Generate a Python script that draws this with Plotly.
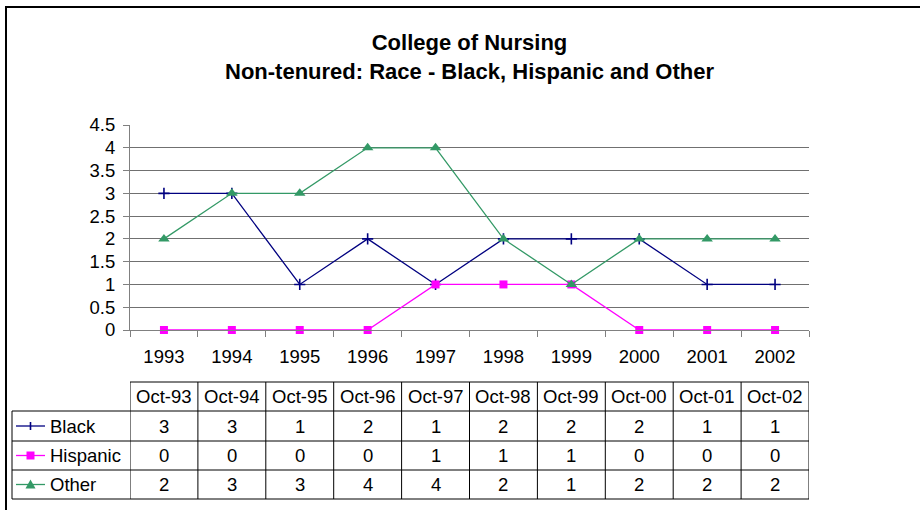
import plotly.graph_objects as go

# ---------------- data ----------------
years = ["1993", "1994", "1995", "1996", "1997", "1998", "1999", "2000", "2001", "2002"]
months = ["Oct-93", "Oct-94", "Oct-95", "Oct-96", "Oct-97", "Oct-98", "Oct-99", "Oct-00", "Oct-01", "Oct-02"]
black = [3, 3, 1, 2, 1, 2, 2, 2, 1, 1]
hispanic = [0, 0, 0, 0, 1, 1, 1, 0, 0, 0]
other = [2, 3, 3, 4, 4, 2, 1, 2, 2, 2]

# ---------------- layout geometry (pixels) ----------------
W, H = 920, 510
L, R, T, B = 130, 809, 125, 330
FONT = "Arial, Liberation Sans, sans-serif"
FS = 18.5

def px(x):
    return (x - L) / (R - L)

def py(y):
    return (B - y) / (B - T)

series = [
    dict(name="Black", y=black, color="#000080",
         marker=dict(symbol="cross-thin", size=8, line=dict(width=1.6, color="#000080"))),
    dict(name="Hispanic", y=hispanic, color="#FF00FF",
         marker=dict(symbol="square", size=8, color="#FF00FF")),
    dict(name="Other", y=other, color="#339966",
         marker=dict(symbol="triangle-up", size=10, color="#339966")),
]

fig = go.Figure()
for s in series:
    fig.add_trace(go.Scatter(
        x=years, y=s["y"], mode="lines+markers", name=s["name"],
        line=dict(color=s["color"], width=1.3), marker=s["marker"],
        showlegend=False, cliponaxis=False))

# ---------------- data table ----------------
row_edges = [382, 411, 441, 470, 499]   # header top, row boundaries
row_centers = [(row_edges[i] + row_edges[i + 1]) / 2 for i in range(4)]
shapes = []
annotations = []
line_style = dict(color="#000000", width=1)
txt_font = dict(family=FONT, size=FS, color="#000")

# horizontal lines
shapes.append(dict(type="line", xref="paper", yref="paper",
                   x0=0, x1=1, y0=py(row_edges[0]), y1=py(row_edges[0]), line=line_style))
for ye in row_edges[1:]:
    shapes.append(dict(type="line", xref="paper", yref="paper",
                       x0=px(12), x1=1, y0=py(ye), y1=py(ye), line=line_style))
# vertical lines
shapes.append(dict(type="line", xref="paper", yref="paper",
                   x0=px(12), x1=px(12), y0=py(row_edges[1]), y1=py(row_edges[-1]), line=line_style))
for i in range(len(years) + 1):
    shapes.append(dict(type="line", xref="x", yref="paper",
                       x0=i - 0.5, x1=i - 0.5, y0=py(row_edges[0]), y1=py(row_edges[-1]),
                       line=line_style))

# header
for i, m in enumerate(months):
    annotations.append(dict(x=i, xref="x", y=py(row_centers[0]), yref="paper",
                            text=m, showarrow=False, font=txt_font,
                            xanchor="center", yanchor="middle"))
# rows
for r, s in enumerate(series):
    yc = row_centers[r + 1]
    for i, v in enumerate(s["y"]):
        annotations.append(dict(x=i, xref="x", y=py(yc), yref="paper",
                                text=str(v), showarrow=False, font=txt_font,
                                xanchor="center", yanchor="middle"))
    annotations.append(dict(x=px(48), xref="paper", y=py(yc), yref="paper",
                            text=s["name"], showarrow=False, font=txt_font,
                            xanchor="left", yanchor="middle"))
    # legend key: line sample
    shapes.append(dict(type="line", xref="paper", yref="paper",
                       x0=px(16), x1=px(45), y0=py(yc), y1=py(yc),
                       line=dict(color=s["color"], width=1.3)))

# legend key markers (drawn as small shapes)
cx = 30.5
yb, yh, yo = row_centers[1], row_centers[2], row_centers[3]
shapes.append(dict(type="line", xref="paper", yref="paper",
                   x0=px(cx), x1=px(cx), y0=py(yb - 4), y1=py(yb + 4),
                   line=dict(color="#000080", width=1.6)))
shapes.append(dict(type="rect", xref="paper", yref="paper",
                   x0=px(cx - 4), x1=px(cx + 4), y0=py(yh - 4), y1=py(yh + 4),
                   line=dict(width=0), fillcolor="#FF00FF"))
shapes.append(dict(type="path", xref="paper", yref="paper",
                   path="M {} {} L {} {} L {} {} Z".format(px(cx - 5), py(yo + 4), px(cx + 5), py(yo + 4),
                                                           px(cx), py(yo - 5)),
                   line=dict(width=0), fillcolor="#339966"))

# outer frame (only left/top visible)
shapes.append(dict(type="rect", xref="paper", yref="paper",
                   x0=px(6), x1=px(940), y0=py(7), y1=py(530),
                   line=dict(color="#000000", width=2), layer="below"))

fig.update_layout(
    width=W, height=H,
    margin=dict(l=L, r=W - R, t=T, b=H - B, pad=0),
    paper_bgcolor="white", plot_bgcolor="white",
    font=dict(family=FONT, size=FS, color="#000"),
    title=dict(text="<b>College of Nursing<br>Non-tenured: Race - Black, Hispanic and Other</b>",
               x=0.5, xref="paper", xanchor="center",
               y=1 - 50 / H, yref="container", yanchor="top",
               font=dict(family=FONT, size=22, color="#000")),
    xaxis=dict(type="category", range=[-0.5, len(years) - 0.5],
               showgrid=False, showline=True, linecolor="#808080", linewidth=1,
               ticks="outside", tickson="boundaries", ticklen=6, tickcolor="#808080",
               ticklabelstandoff=10,
               tickfont=txt_font, zeroline=False),
    yaxis=dict(range=[0, 4.5], dtick=0.5, tick0=0,
               showgrid=True, gridcolor="#707070", gridwidth=1,
               showline=True, linecolor="#808080", linewidth=1,
               ticks="outside", ticklen=6, tickcolor="#808080",
               ticklabelstandoff=4,
               tickfont=txt_font, zeroline=False),
    shapes=shapes, annotations=annotations,
)

fig.write_html("out.html", config={"displayModeBar": False},
               post_script="document.body.style.margin='0';")
